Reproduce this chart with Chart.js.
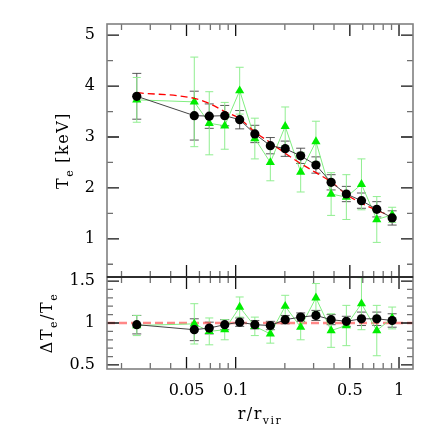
<!DOCTYPE html>
<html>
<head>
<meta charset="utf-8">
<script src="https://cdn.jsdelivr.net/npm/chart.js@4"></script>
<style>
  html, body { margin: 0; padding: 0; background: #fff; }
  canvas { display: block; }
</style>
</head>
<body>
<canvas id="c" width="436" height="436"></canvas>
<script>
// ---------- data ----------
const radius = [0.0248, 0.0558, 0.0689, 0.0857, 0.1058, 0.131, 0.163, 0.201, 0.250, 0.310, 0.384, 0.476, 0.589, 0.731, 0.908];

const tempBlack    = [3.80, 3.42, 3.41, 3.42, 3.34, 3.06, 2.83, 2.77, 2.63, 2.45, 2.11, 1.88, 1.75, 1.58, 1.41];
const tempBlackErr = [0.45, 0.48, 0.24, 0.20, 0.18, 0.17, 0.16, 0.15, 0.15, 0.16, 0.15, 0.15, 0.15, 0.15, 0.14];

const tempGreen    = [3.73, 3.69, 3.27, 3.22, 3.91, 2.97, 2.50, 3.21, 2.31, 2.91, 1.88, 1.82, 2.07, 1.38, 1.47];
const tempGreenErr = [0.44, 0.88, 0.62, 0.46, 0.46, 0.40, 0.36, 0.38, 0.39, 0.40, 0.42, 0.44, 0.50, 0.45, 0.15];

const tempModel    = [3.87, 3.76, 3.66, 3.50, 3.36, 3.10, 2.89, 2.68, 2.48, 2.30, 2.12, 1.87, 1.70, 1.56, 1.44];

const ratioBlack    = [0.98, 0.92, 0.94, 0.98, 1.01, 0.98, 0.97, 1.04, 1.07, 1.09, 1.04, 1.02, 1.05, 1.05, 1.03];
const ratioBlackErr = [0.11, 0.13, 0.07, 0.06, 0.05, 0.05, 0.05, 0.05, 0.05, 0.06, 0.06, 0.06, 0.08, 0.08, 0.08];

const ratioGreen    = [0.97, 0.99, 0.90, 0.92, 1.19, 0.96, 0.87, 1.20, 0.95, 1.30, 0.91, 0.97, 1.23, 0.91, 1.06];
const ratioGreenErr = [0.12, 0.24, 0.16, 0.12, 0.12, 0.11, 0.11, 0.13, 0.15, 0.17, 0.20, 0.24, 0.31, 0.30, 0.13];

const refLineX = [0.0163, 1.218];
const refLineY = [1, 1];

const xMajorTicks = [0.05, 0.1, 0.5, 1];
const xMinorTicks = [0.02, 0.03, 0.04, 0.06, 0.07, 0.08, 0.09, 0.2, 0.3, 0.4, 0.6, 0.7, 0.8, 0.9];
const tMajorTicks = [1, 2, 3, 4, 5];
const tMinorTicks = [0.5, 1.5, 2.5, 3.5, 4.5];
const rMajorTicks = [0.5, 1, 1.5];
const rMinorTicks = [0.6, 0.7, 0.8, 0.9, 1.1, 1.2, 1.3, 1.4];

// ---------- helpers ----------
const pts = (xs, ys) => xs.map((x, i) => ({ x: x, y: ys[i] }));
const FONT = "'DejaVu Serif', serif";
const tickFont = { family: FONT, size: 16 };

const errorBars = {
  id: 'errorBars',
  beforeDatasetsDraw(chart) {
    const ctx = chart.ctx;
    chart.data.datasets.forEach((ds, di) => {
      if (!ds.errs) return;
      const meta = chart.getDatasetMeta(di);
      const ys = chart.scales[ds.yAxisID];
      ctx.save();
      ctx.strokeStyle = ds.errColor;
      ctx.lineWidth = 1;
      meta.data.forEach((p, i) => {
        const v = ds.data[i].y, e = ds.errs[i];
        const y1 = ys.getPixelForValue(v + e), y2 = ys.getPixelForValue(v - e);
        const x = p.x, w = ds.capW;
        ctx.beginPath();
        ctx.moveTo(x, y1); ctx.lineTo(x, y2);
        ctx.moveTo(x - w, y1); ctx.lineTo(x + w, y1);
        ctx.moveTo(x - w, y2); ctx.lineTo(x + w, y2);
        ctx.stroke();
      });
      ctx.restore();
    });
  }
};

function drawRich(ctx, parts, cx, cy, rot) {
  ctx.save();
  ctx.translate(cx, cy);
  ctx.rotate(rot);
  ctx.fillStyle = '#000';
  ctx.textBaseline = 'alphabetic';
  ctx.textAlign = 'left';
  try { ctx.letterSpacing = '1.5px'; } catch (e) {}
  let total = 0;
  parts.forEach(p => {
    ctx.font = (p.sub ? '11px ' : '16px ') + FONT;
    p.w = ctx.measureText(p.t).width + (p.gap || 0);
    total += p.w;
  });
  let x = -total / 2;
  parts.forEach(p => {
    ctx.font = (p.sub ? '11px ' : '16px ') + FONT;
    ctx.fillText(p.t, x, p.sub ? 10 : 5);
    x += p.w;
  });
  try { ctx.letterSpacing = '0px'; } catch (e) {}
  ctx.restore();
}

const frameTicks = {
  id: 'frameTicks',
  afterDatasetsDraw(chart) {
    const ctx = chart.ctx;
    const xs = chart.scales.x;
    const L = chart.chartArea.left, R = chart.chartArea.right;
    const panels = [
      { s: chart.scales.y, maj: tMajorTicks, min: tMinorTicks },
      { s: chart.scales.y2, maj: rMajorTicks, min: rMinorTicks }
    ];
    ctx.save();
    panels.forEach(pn => {
      const T = pn.s.top, B = pn.s.bottom;
      const tick = (list, len, col, vertical) => {
        ctx.strokeStyle = col;
        ctx.lineWidth = 1.3;
        ctx.beginPath();
        list.forEach(v => {
          if (vertical) {
            const x = xs.getPixelForValue(v);
            ctx.moveTo(x, T); ctx.lineTo(x, T + len);
            ctx.moveTo(x, B); ctx.lineTo(x, B - len);
          } else {
            const y = pn.s.getPixelForValue(v);
            if (y < T - 0.5 || y > B + 0.5) return;
            ctx.moveTo(L, y); ctx.lineTo(L + len, y);
            ctx.moveTo(R, y); ctx.lineTo(R - len, y);
          }
        });
        ctx.stroke();
      };
      tick(pn.min, 6, '#707070', false);
      tick(pn.maj, 12, '#111', false);
      tick(xMinorTicks, 6, '#707070', true);
      tick(xMajorTicks, 12, '#111', true);
      ctx.strokeStyle = '#808080';
      ctx.lineWidth = 1.6;
      ctx.strokeRect(L, T, R - L, B - T);
    });
    ctx.strokeStyle = '#111';
    ctx.lineWidth = 1.3;
    ctx.beginPath();
    ctx.moveTo(L, chart.scales.y.bottom); ctx.lineTo(R, chart.scales.y.bottom);
    ctx.stroke();
    ctx.restore();

    // axis titles
    const yT = chart.scales.y, yR = chart.scales.y2;
    drawRich(ctx, [{ t: 'T' }, { t: 'e', sub: true, gap: 6 }, { t: '[keV]' }], 63, (yT.top + yT.bottom) / 2, -Math.PI / 2);
    drawRich(ctx, [{ t: 'ΔT' }, { t: 'e', sub: true }, { t: '/T' }, { t: 'e', sub: true }], 47, (yR.top + yR.bottom) / 2, -Math.PI / 2);
    drawRich(ctx, [{ t: 'r/r' }, { t: 'vir', sub: true }], (L + R) / 2, 414, 0);
  }
};

const yCommon = (maj, mn, mx, weight, sw) => ({
  type: 'linear',
  position: 'left',
  stack: 'panels',
  stackWeight: sw,
  weight: weight,
  min: mn, max: mx,
  afterBuildTicks: s => { s.ticks = maj.map(v => ({ value: v })); },
  afterFit: s => { s.width = 107; },
  grid: { display: false, drawTicks: false, tickLength: 0 },
  border: { display: false },
  ticks: { font: tickFont, color: '#000', padding: 12, autoSkip: false, callback: v => String(v) }
});

new Chart(document.getElementById('c'), {
  type: 'line',
  data: {
    datasets: [
      { label: 'T black', data: pts(radius, tempBlack), yAxisID: 'y', order: 0,
        borderColor: '#444', borderWidth: 1, pointRadius: 4.6, pointStyle: 'circle',
        pointBackgroundColor: '#000', pointBorderColor: '#000', pointBorderWidth: 0,
        errs: tempBlackErr, errColor: 'rgba(60,60,60,0.85)', capW: 4.5 },
      { label: 'T model', data: pts(radius, tempModel), yAxisID: 'y', order: 1,
        borderColor: '#ff0000', borderWidth: 1.3, borderDash: [7, 4], pointRadius: 0,
        cubicInterpolationMode: 'monotone' },
      { label: 'T green', data: pts(radius, tempGreen), yAxisID: 'y', order: 2,
        borderColor: '#80ee80', borderWidth: 1, pointRadius: 5.3, pointStyle: 'triangle',
        pointBackgroundColor: '#00ee00', pointBorderColor: '#00ee00', pointBorderWidth: 0,
        errs: tempGreenErr, errColor: '#90ee90', capW: 4 },
      { label: 'R black', data: pts(radius, ratioBlack), yAxisID: 'y2', order: 0,
        borderColor: '#444', borderWidth: 1, pointRadius: 4.6, pointStyle: 'circle',
        pointBackgroundColor: '#000', pointBorderColor: '#000', pointBorderWidth: 0,
        errs: ratioBlackErr, errColor: 'rgba(60,60,60,0.85)', capW: 4.5 },
      { label: 'R ref', data: pts(refLineX, refLineY), yAxisID: 'y2', order: 3,
        borderColor: 'rgba(255,70,70,0.65)', borderWidth: 2.4, borderDash: [8, 4], pointRadius: 0 },
      { label: 'R green', data: pts(radius, ratioGreen), yAxisID: 'y2', order: 2,
        borderColor: '#80ee80', borderWidth: 1, pointRadius: 5.3, pointStyle: 'triangle',
        pointBackgroundColor: '#00ee00', pointBorderColor: '#00ee00', pointBorderWidth: 0,
        errs: ratioGreenErr, errColor: '#90ee90', capW: 4 }
    ]
  },
  options: {
    responsive: false,
    animation: false,
    layout: { padding: { top: 24, right: 23, left: 0, bottom: 0 } },
    plugins: { legend: { display: false }, tooltip: { enabled: false } },
    scales: {
      x: {
        type: 'logarithmic',
        position: 'bottom',
        min: 0.0163, max: 1.218,
        afterBuildTicks: s => { s.ticks = xMajorTicks.map(v => ({ value: v })); },
        afterFit: s => { s.height = 67; },
        grid: { display: false, drawTicks: false, tickLength: 0 },
        border: { display: false },
        ticks: { font: tickFont, color: '#000', padding: 12, maxRotation: 0, autoSkip: false,
                 callback: v => String(v) }
      },
      y: yCommon(tMajorTicks, 0.25, 5.22, 2, 253),
      y2: yCommon(rMajorTicks, 0.452, 1.548, 1, 92)
    }
  },
  plugins: [errorBars, frameTicks]
});
</script>
</body>
</html>
